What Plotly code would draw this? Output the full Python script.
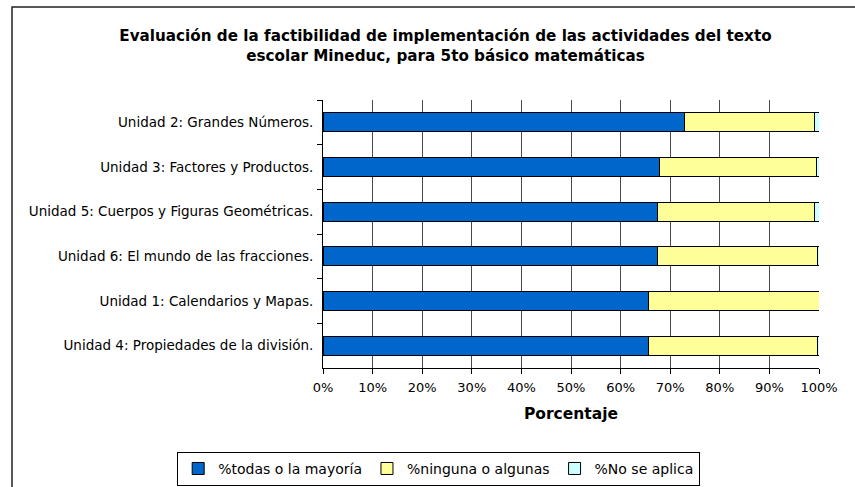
import plotly.graph_objects as go

categories = [
    "Unidad 2: Grandes Números.",
    "Unidad 3: Factores y Productos.",
    "Unidad 5: Cuerpos y Figuras Geométricas.",
    "Unidad 6: El mundo de las fracciones.",
    "Unidad 1: Calendarios y Mapas.",
    "Unidad 4: Propiedades de la división.",
]
todas = [72.8, 67.8, 67.5, 67.5, 65.6, 65.6]
ninguna = [26.3, 31.6, 31.6, 32.2, 34.4, 34.1]
no_aplica = [0.9, 0.6, 0.9, 0.3, 0.0, 0.3]
series_names = ["%todas o la mayoría", "%ninguna o algunas", "%No se aplica"]
colors = ["#0066CC", "#FFFF99", "#CCFFFF"]
x_ticks = [0, 10, 20, 30, 40, 50, 60, 70, 80, 90, 100]

fig = go.Figure()
for name, vals, col in zip(series_names, [todas, ninguna, no_aplica], colors):
    fig.add_trace(go.Bar(
        y=categories, x=vals, name=name, orientation="h",
        marker=dict(color=col, line=dict(color="#000000", width=1)),
    ))

font_fam = "DejaVu Sans, Verdana, sans-serif"
fig.update_layout(
    barmode="stack",
    bargap=0.58,
    width=855, height=487,
    margin=dict(l=323, r=36, t=100, b=119, autoexpand=False),
    paper_bgcolor="white", plot_bgcolor="white",
    font=dict(family=font_fam, size=13, color="black"),
    title=dict(
        text="<b>Evaluación de la factibilidad de implementación de las actividades del texto<br>escolar Mineduc, para 5to básico matemáticas</b>",
        x=0.521, xanchor="center", y=0.916, yanchor="middle",
        font=dict(family=font_fam, size=15.2, color="black"),
    ),
    legend=dict(
        orientation="h", x=-0.294, xanchor="left", y=-0.313, yanchor="top",
        bordercolor="black", borderwidth=1, bgcolor="white",
        font=dict(family=font_fam, size=14), traceorder="normal",
        itemwidth=30,
    ),
    xaxis=dict(
        range=[0, 100], tickvals=x_ticks, ticktext=[f"{v}%" for v in x_ticks],
        showgrid=True, gridcolor="#4a4a4a", gridwidth=1,
        ticks="outside", ticklen=5, tickcolor="black",
        showline=True, linecolor="black", linewidth=1, mirror=False,
        zeroline=False, ticklabelstandoff=2,
        title=dict(text="<b>Porcentaje</b>", font=dict(family=font_fam, size=15.5), standoff=14),
        tickfont=dict(family=font_fam, size=13),
    ),
    yaxis=dict(
        autorange="reversed", tickson="boundaries",
        ticks="outside", ticklen=5, tickcolor="black",
        showline=True, linecolor="black", linewidth=1,
        showgrid=False, ticklabelstandoff=6,
        tickfont=dict(family=font_fam, size=13.5),
    ),
    shapes=[dict(type="rect", xref="paper", yref="paper", x0=-0.627, x1=1.2, y0=-0.6, y1=1.347,
                 line=dict(color="#222222", width=1.5), fillcolor="rgba(0,0,0,0)", layer="below")],
)

fig.write_html("out.html", config={"displayModeBar": False},
               post_script="document.body.style.margin='0px';")
